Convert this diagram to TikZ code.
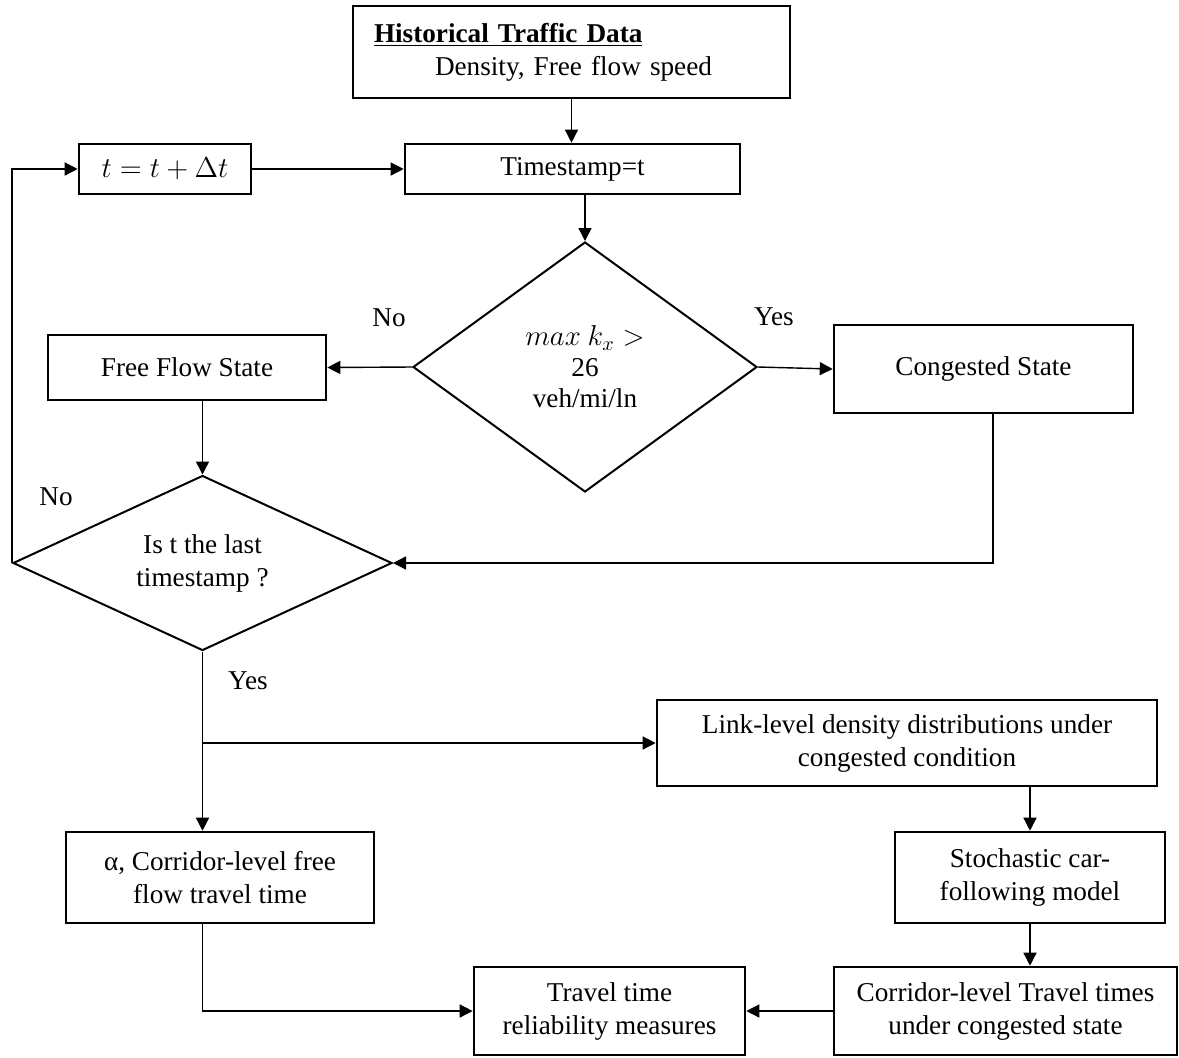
\documentclass[tikz,border=0pt]{standalone}
\usepackage{fontspec}
\setmainfont{Liberation Serif}
\usetikzlibrary{positioning,arrows.meta,calc,shapes.geometric}

\begin{document}
\begin{tikzpicture}[x=0.5pt,y=-0.5pt,
    font=\fontsize{13.6}{16.5}\selectfont,
    box/.style={draw,line width=1.3pt,align=center,inner sep=2pt},
    dia/.style={draw,diamond,line width=1pt,align=center,inner sep=0pt},
    conn/.style={line width=0.7pt,-{Triangle[length=6.5pt,width=6.5pt]}}]
      \useasboundingbox (0,0) rectangle (1179,1057);

      % boxes
      \node[box,minimum width=218.5pt,minimum height=46pt,text width=197.5pt,align=left,inner xsep=10.5pt] (hist) at (571.5,52)
        {\underline{\textbf{Historical Traffic Data}}\\\hspace*{30.5pt}Density, Free flow speed};
      \node[box,minimum width=167.5pt,minimum height=25pt] (ts) at (572.5,169) {Timestamp=t};
      \node[box,minimum width=86pt,minimum height=25pt] (tinc) at (165,169) {$t = t + \Delta t$};
      \node[dia,aspect=1.38,minimum width=172pt,minimum height=125pt,font=\fontsize{13.6}{15.5}\selectfont] (dec1) at (585,367) {$max\ k_x >$\\26\\veh/mi/ln};
      \node[box,minimum width=139pt,minimum height=32.5pt] (free) at (187,367.5) {Free Flow State};
      \node[box,minimum width=149.5pt,minimum height=44pt] (cong) at (983.5,369) {Congested State};
      \node[dia,aspect=2.17,minimum width=189.5pt,minimum height=87.5pt] (dec2) at (202.5,563) {Is t the last\\timestamp ?};
      \node[box,minimum width=250pt,minimum height=43pt] (link) at (907,743) {Link-level density distributions under\\congested condition};
      \node[box,minimum width=135pt,minimum height=45.5pt] (stoch) at (1030,877.5) {Stochastic car-\\following model};
      \node[box,minimum width=154pt,minimum height=45.5pt] (alpha) at (220,877.5) {α, Corridor-level free\\flow travel time};
      \node[box,minimum width=135.5pt,minimum height=44pt] (trav) at (609.5,1011) {Travel time\\reliability measures};
      \node[box,minimum width=171.5pt,minimum height=44pt] (corr) at (1005.5,1011) {Corridor-level Travel times\\under congested state};

      % labels
      \node (no1) at (389,318) {No};
      \node (yes1) at (774,317) {Yes};
      \node (no2) at (56,497) {No};
      \node (yes2) at (248,681) {Yes};

      \coordinate (split) at (203,743);

      % connectors
      \draw[conn] (hist.south) -- (hist.south |- ts.north);
      \draw[conn] (tinc.east) -- (ts.west);
      \draw[conn] (dec1.north |- ts.south) -- (dec1.north);
      \draw[conn] (dec1.west) -- (free.east);
      \draw[conn] (dec1.east) -- (cong.west);
      \draw[conn] (dec2.north |- free.south) -- (dec2.north);
      \draw[conn] ([xshift=4.75pt]cong.south) |- (dec2.east);
      \draw[conn] (dec2.west) |- (tinc.west);
      \draw[conn] (dec2.south) -- (dec2.south |- alpha.north);
      \draw[conn] (split) -- (link.west);
      \draw[conn] (stoch.north |- link.south) -- (stoch.north);
      \draw[conn] (stoch.south) -- (stoch.south |- corr.north);
      \draw[conn] (corr.west) -- (trav.east);
      \draw[conn] (dec2.south |- alpha.south) |- (trav.west);
\end{tikzpicture}
\end{document}
